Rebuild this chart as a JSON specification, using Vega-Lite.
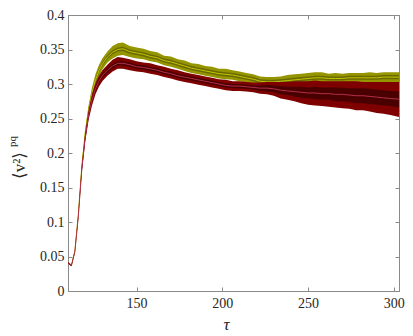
{
"$schema":"https://vega.github.io/schema/vega-lite/v6.json",
"width":331,"height":276,"autosize":"none",
"padding":{"left":68,"top":15,"right":14,"bottom":45},
"background":"white",
"config":{"view":{"stroke":"#8a8a8a","strokeWidth":1}},
"datasets":{
"o":[
{"t":110,"m":0.041,"c":0.040,"d":0.042,"a":0.0405,"b":0.0415},
{"t":112,"m":0.037,"c":0.036,"d":0.038,"a":0.0365,"b":0.0375},
{"t":114,"m":0.058,"c":0.057,"d":0.059,"a":0.0575,"b":0.0585},
{"t":116,"m":0.110,"c":0.108,"d":0.112,"a":0.109,"b":0.111},
{"t":118,"m":0.180,"c":0.176,"d":0.184,"a":0.178,"b":0.182},
{"t":120,"m":0.228,"c":0.222,"d":0.234,"a":0.225,"b":0.231},
{"t":122,"m":0.262,"c":0.255,"d":0.269,"a":0.259,"b":0.265},
{"t":124,"m":0.287,"c":0.279,"d":0.295,"a":0.284,"b":0.290},
{"t":126,"m":0.306,"c":0.298,"d":0.314,"a":0.303,"b":0.309},
{"t":128,"m":0.319,"c":0.311,"d":0.327,"a":0.316,"b":0.322},
{"t":130,"m":0.329,"c":0.321,"d":0.337,"a":0.326,"b":0.332},
{"t":133,"m":0.339,"c":0.331,"d":0.347,"a":0.336,"b":0.342},
{"t":136,"m":0.346,"c":0.337,"d":0.355,"a":0.343,"b":0.349},
{"t":139,"m":0.350,"c":0.341,"d":0.359,"a":0.347,"b":0.353},
{"t":142,"m":0.351,"c":0.342,"d":0.360,"a":0.348,"b":0.354},
{"t":146,"m":0.347,"c":0.339,"d":0.355,"a":0.344,"b":0.350},
{"t":150,"m":0.345,"c":0.337,"d":0.353,"a":0.342,"b":0.348},
{"t":154,"m":0.343,"c":0.336,"d":0.351,"a":0.340,"b":0.346},
{"t":158,"m":0.340,"c":0.333,"d":0.348,"a":0.337,"b":0.343},
{"t":162,"m":0.338,"c":0.331,"d":0.346,"a":0.335,"b":0.341},
{"t":166,"m":0.334,"c":0.327,"d":0.341,"a":0.331,"b":0.337},
{"t":170,"m":0.332,"c":0.325,"d":0.340,"a":0.329,"b":0.335},
{"t":174,"m":0.329,"c":0.322,"d":0.336,"a":0.326,"b":0.332},
{"t":178,"m":0.326,"c":0.319,"d":0.334,"a":0.323,"b":0.329},
{"t":182,"m":0.323,"c":0.316,"d":0.330,"a":0.320,"b":0.326},
{"t":186,"m":0.321,"c":0.314,"d":0.329,"a":0.318,"b":0.324},
{"t":190,"m":0.319,"c":0.312,"d":0.326,"a":0.316,"b":0.322},
{"t":194,"m":0.317,"c":0.310,"d":0.325,"a":0.314,"b":0.320},
{"t":198,"m":0.315,"c":0.308,"d":0.322,"a":0.312,"b":0.318},
{"t":202,"m":0.314,"c":0.307,"d":0.322,"a":0.311,"b":0.317},
{"t":206,"m":0.313,"c":0.306,"d":0.320,"a":0.310,"b":0.316},
{"t":210,"m":0.311,"c":0.304,"d":0.318,"a":0.308,"b":0.314},
{"t":214,"m":0.309,"c":0.302,"d":0.316,"a":0.306,"b":0.312},
{"t":218,"m":0.307,"c":0.300,"d":0.314,"a":0.304,"b":0.310},
{"t":222,"m":0.304,"c":0.297,"d":0.311,"a":0.301,"b":0.307},
{"t":226,"m":0.303,"c":0.296,"d":0.310,"a":0.300,"b":0.306},
{"t":230,"m":0.303,"c":0.296,"d":0.310,"a":0.300,"b":0.306},
{"t":234,"m":0.304,"c":0.297,"d":0.311,"a":0.301,"b":0.307},
{"t":238,"m":0.305,"c":0.298,"d":0.313,"a":0.302,"b":0.308},
{"t":242,"m":0.306,"c":0.298,"d":0.314,"a":0.303,"b":0.309},
{"t":246,"m":0.307,"c":0.299,"d":0.315,"a":0.304,"b":0.310},
{"t":250,"m":0.308,"c":0.300,"d":0.316,"a":0.305,"b":0.311},
{"t":254,"m":0.309,"c":0.301,"d":0.317,"a":0.306,"b":0.312},
{"t":258,"m":0.309,"c":0.301,"d":0.317,"a":0.306,"b":0.312},
{"t":262,"m":0.308,"c":0.300,"d":0.315,"a":0.305,"b":0.311},
{"t":266,"m":0.308,"c":0.300,"d":0.316,"a":0.305,"b":0.311},
{"t":270,"m":0.308,"c":0.300,"d":0.315,"a":0.305,"b":0.311},
{"t":274,"m":0.309,"c":0.301,"d":0.316,"a":0.306,"b":0.312},
{"t":278,"m":0.309,"c":0.301,"d":0.316,"a":0.306,"b":0.312},
{"t":282,"m":0.309,"c":0.301,"d":0.316,"a":0.306,"b":0.312},
{"t":286,"m":0.309,"c":0.301,"d":0.317,"a":0.306,"b":0.312},
{"t":290,"m":0.309,"c":0.301,"d":0.316,"a":0.306,"b":0.312},
{"t":294,"m":0.310,"c":0.302,"d":0.317,"a":0.307,"b":0.313},
{"t":298,"m":0.310,"c":0.302,"d":0.317,"a":0.307,"b":0.313},
{"t":303,"m":0.310,"c":0.302,"d":0.317,"a":0.307,"b":0.313}
],
"r":[
{"t":110,"m":0.041,"c":0.040,"d":0.042,"a":0.0405,"b":0.0415},
{"t":112,"m":0.037,"c":0.036,"d":0.038,"a":0.0365,"b":0.0375},
{"t":114,"m":0.057,"c":0.056,"d":0.058,"a":0.0565,"b":0.0575},
{"t":116,"m":0.108,"c":0.106,"d":0.110,"a":0.107,"b":0.109},
{"t":118,"m":0.175,"c":0.171,"d":0.179,"a":0.173,"b":0.177},
{"t":120,"m":0.222,"c":0.216,"d":0.228,"a":0.219,"b":0.225},
{"t":122,"m":0.255,"c":0.248,"d":0.262,"a":0.252,"b":0.258},
{"t":124,"m":0.277,"c":0.269,"d":0.285,"a":0.274,"b":0.280},
{"t":126,"m":0.293,"c":0.285,"d":0.301,"a":0.290,"b":0.296},
{"t":128,"m":0.304,"c":0.296,"d":0.312,"a":0.301,"b":0.307},
{"t":130,"m":0.312,"c":0.304,"d":0.320,"a":0.309,"b":0.315},
{"t":133,"m":0.320,"c":0.312,"d":0.328,"a":0.317,"b":0.323},
{"t":136,"m":0.326,"c":0.318,"d":0.335,"a":0.323,"b":0.329},
{"t":139,"m":0.330,"c":0.322,"d":0.339,"a":0.327,"b":0.333},
{"t":142,"m":0.330,"c":0.322,"d":0.338,"a":0.327,"b":0.333},
{"t":146,"m":0.328,"c":0.320,"d":0.336,"a":0.325,"b":0.331},
{"t":150,"m":0.325,"c":0.318,"d":0.333,"a":0.322,"b":0.328},
{"t":154,"m":0.324,"c":0.317,"d":0.331,"a":0.321,"b":0.327},
{"t":158,"m":0.322,"c":0.315,"d":0.330,"a":0.319,"b":0.325},
{"t":162,"m":0.320,"c":0.313,"d":0.327,"a":0.317,"b":0.323},
{"t":166,"m":0.317,"c":0.310,"d":0.325,"a":0.314,"b":0.320},
{"t":170,"m":0.315,"c":0.308,"d":0.322,"a":0.312,"b":0.318},
{"t":174,"m":0.312,"c":0.305,"d":0.320,"a":0.309,"b":0.315},
{"t":178,"m":0.310,"c":0.303,"d":0.317,"a":0.307,"b":0.313},
{"t":182,"m":0.308,"c":0.301,"d":0.315,"a":0.305,"b":0.311},
{"t":186,"m":0.306,"c":0.299,"d":0.313,"a":0.303,"b":0.309},
{"t":190,"m":0.304,"c":0.297,"d":0.311,"a":0.301,"b":0.307},
{"t":194,"m":0.302,"c":0.295,"d":0.309,"a":0.299,"b":0.305},
{"t":198,"m":0.300,"c":0.293,"d":0.307,"a":0.297,"b":0.303},
{"t":202,"m":0.298,"c":0.291,"d":0.306,"a":0.295,"b":0.301},
{"t":206,"m":0.297,"c":0.290,"d":0.304,"a":0.294,"b":0.300},
{"t":210,"m":0.297,"c":0.290,"d":0.304,"a":0.294,"b":0.300},
{"t":214,"m":0.296,"c":0.289,"d":0.303,"a":0.293,"b":0.299},
{"t":218,"m":0.295,"c":0.288,"d":0.302,"a":0.292,"b":0.298},
{"t":222,"m":0.294,"c":0.286,"d":0.302,"a":0.290,"b":0.298},
{"t":226,"m":0.294,"c":0.285,"d":0.303,"a":0.289,"b":0.299},
{"t":230,"m":0.293,"c":0.283,"d":0.303,"a":0.288,"b":0.298},
{"t":234,"m":0.291,"c":0.279,"d":0.303,"a":0.285,"b":0.297},
{"t":238,"m":0.290,"c":0.277,"d":0.303,"a":0.284,"b":0.296},
{"t":242,"m":0.289,"c":0.275,"d":0.304,"a":0.282,"b":0.296},
{"t":246,"m":0.288,"c":0.272,"d":0.304,"a":0.280,"b":0.296},
{"t":250,"m":0.287,"c":0.270,"d":0.304,"a":0.279,"b":0.295},
{"t":254,"m":0.287,"c":0.269,"d":0.305,"a":0.278,"b":0.296},
{"t":258,"m":0.286,"c":0.268,"d":0.304,"a":0.277,"b":0.295},
{"t":262,"m":0.286,"c":0.267,"d":0.304,"a":0.277,"b":0.295},
{"t":266,"m":0.285,"c":0.266,"d":0.304,"a":0.275,"b":0.295},
{"t":270,"m":0.285,"c":0.265,"d":0.304,"a":0.275,"b":0.295},
{"t":274,"m":0.284,"c":0.264,"d":0.304,"a":0.274,"b":0.294},
{"t":278,"m":0.283,"c":0.262,"d":0.304,"a":0.272,"b":0.294},
{"t":282,"m":0.283,"c":0.262,"d":0.303,"a":0.272,"b":0.294},
{"t":286,"m":0.282,"c":0.260,"d":0.303,"a":0.271,"b":0.293},
{"t":290,"m":0.281,"c":0.258,"d":0.303,"a":0.270,"b":0.292},
{"t":294,"m":0.280,"c":0.257,"d":0.303,"a":0.269,"b":0.291},
{"t":298,"m":0.279,"c":0.255,"d":0.303,"a":0.268,"b":0.290},
{"t":303,"m":0.278,"c":0.252,"d":0.303,"a":0.266,"b":0.289}
]},
"resolve":{"scale":{"x":"independent","y":"independent"},"axis":{"x":"independent","y":"independent"}},
"layer":[
{"layer":[
 {"data":{"name":"o"},"mark":{"type":"area","color":"#959500"},
  "encoding":{"x":{"field":"t","type":"quantitative","title":"τ","scale":{"domain":[110,303],"nice":false,"zero":false},
     "axis":{"orient":"bottom","values":[150,200,250,300],"tickCount":10,"grid":false,"domainColor":"#8a8a8a","tickColor":"#8a8a8a","tickSize":-4,"labelFont":"Liberation Serif, DejaVu Serif, serif","labelFontSize":14,"labelColor":"#262626","labelPadding":9,"labelOverlap":false,"labelFlush":false,"titleFont":"Liberation Serif, DejaVu Serif, serif","titleFontWeight":"normal","titleColor":"#262626","titleFontSize":17,"titleFontStyle":"italic","titleX":158,"titleY":38,"titleBaseline":"alphabetic"}},
   "y":{"field":"c","type":"quantitative","title":"⟨v²⟩","scale":{"domain":[0,0.4],"nice":false},
     "axis":{"orient":"left","values":[0,0.05,0.1,0.15,0.2,0.25,0.3,0.35,0.4],"tickCount":10,"format":".2~f","grid":false,"domainColor":"#8a8a8a","tickColor":"#8a8a8a","tickSize":-4,"labelFont":"Liberation Serif, DejaVu Serif, serif","labelFontSize":14,"labelColor":"#262626","labelPadding":8,"labelOverlap":false,"labelFlush":false,"titleFont":"Liberation Serif, DejaVu Serif, serif","titleFontWeight":"normal","titleColor":"#262626","titleFontSize":17,"titleAngle":270,"titleAlign":"center","titleBaseline":"middle","titleX":-49,"titleY":150}},
   "y2":{"field":"d"}}},
 {"data":{"name":"o"},"mark":{"type":"area","color":"#6a6a00"},
  "encoding":{"x":{"field":"t","type":"quantitative","title":"τ"},"y":{"field":"a","type":"quantitative","title":"⟨v²⟩"},"y2":{"field":"b"}}},
 {"data":{"name":"o"},"mark":{"type":"line","color":"#c4c400","strokeWidth":1},
  "encoding":{"x":{"field":"t","type":"quantitative","title":"τ"},"y":{"field":"m","type":"quantitative","title":"⟨v²⟩"}}},
 {"data":{"name":"r"},"mark":{"type":"area","color":"#7f0000"},
  "encoding":{"x":{"field":"t","type":"quantitative","title":"τ"},"y":{"field":"c","type":"quantitative","title":"⟨v²⟩"},"y2":{"field":"d"}}},
 {"data":{"name":"r"},"mark":{"type":"area","color":"#4a0000"},
  "encoding":{"x":{"field":"t","type":"quantitative","title":"τ"},"y":{"field":"a","type":"quantitative","title":"⟨v²⟩"},"y2":{"field":"b"}}},
 {"data":{"name":"r"},"mark":{"type":"line","color":"#b0304a","strokeWidth":1},
  "encoding":{"x":{"field":"t","type":"quantitative","title":"τ"},"y":{"field":"m","type":"quantitative","title":"⟨v²⟩"}}}
]},
{"data":{"name":"o"},"mark":{"type":"point","opacity":0},
 "encoding":{"x":{"field":"t","type":"quantitative","scale":{"domain":[110,303],"nice":false,"zero":false},"axis":{"orient":"top","values":[150,200,250,300],"tickCount":10,"labels":false,"title":null,"grid":false,"domainColor":"#8a8a8a","tickColor":"#8a8a8a","tickSize":-4}},
  "y":{"field":"m","type":"quantitative","scale":{"domain":[0,0.4],"nice":false},"axis":{"orient":"right","values":[0,0.05,0.1,0.15,0.2,0.25,0.3,0.35,0.4],"tickCount":10,"labels":false,"title":null,"grid":false,"domainColor":"#8a8a8a","tickColor":"#8a8a8a","tickSize":-4}}}},
{"data":{"name":"o"},"mark":{"type":"point","opacity":0},
 "encoding":{"y":{"field":"m","type":"quantitative","scale":{"domain":[0,0.4],"nice":false},"axis":{"orient":"left","domain":false,"ticks":false,"labels":false,"grid":false,"title":"pq","titleFont":"Liberation Serif, DejaVu Serif, serif","titleFontWeight":"normal","titleColor":"#262626","titleFontSize":11,"titleAngle":270,"titleAlign":"center","titleBaseline":"middle","titleX":-56,"titleY":126}}}}
]
}
